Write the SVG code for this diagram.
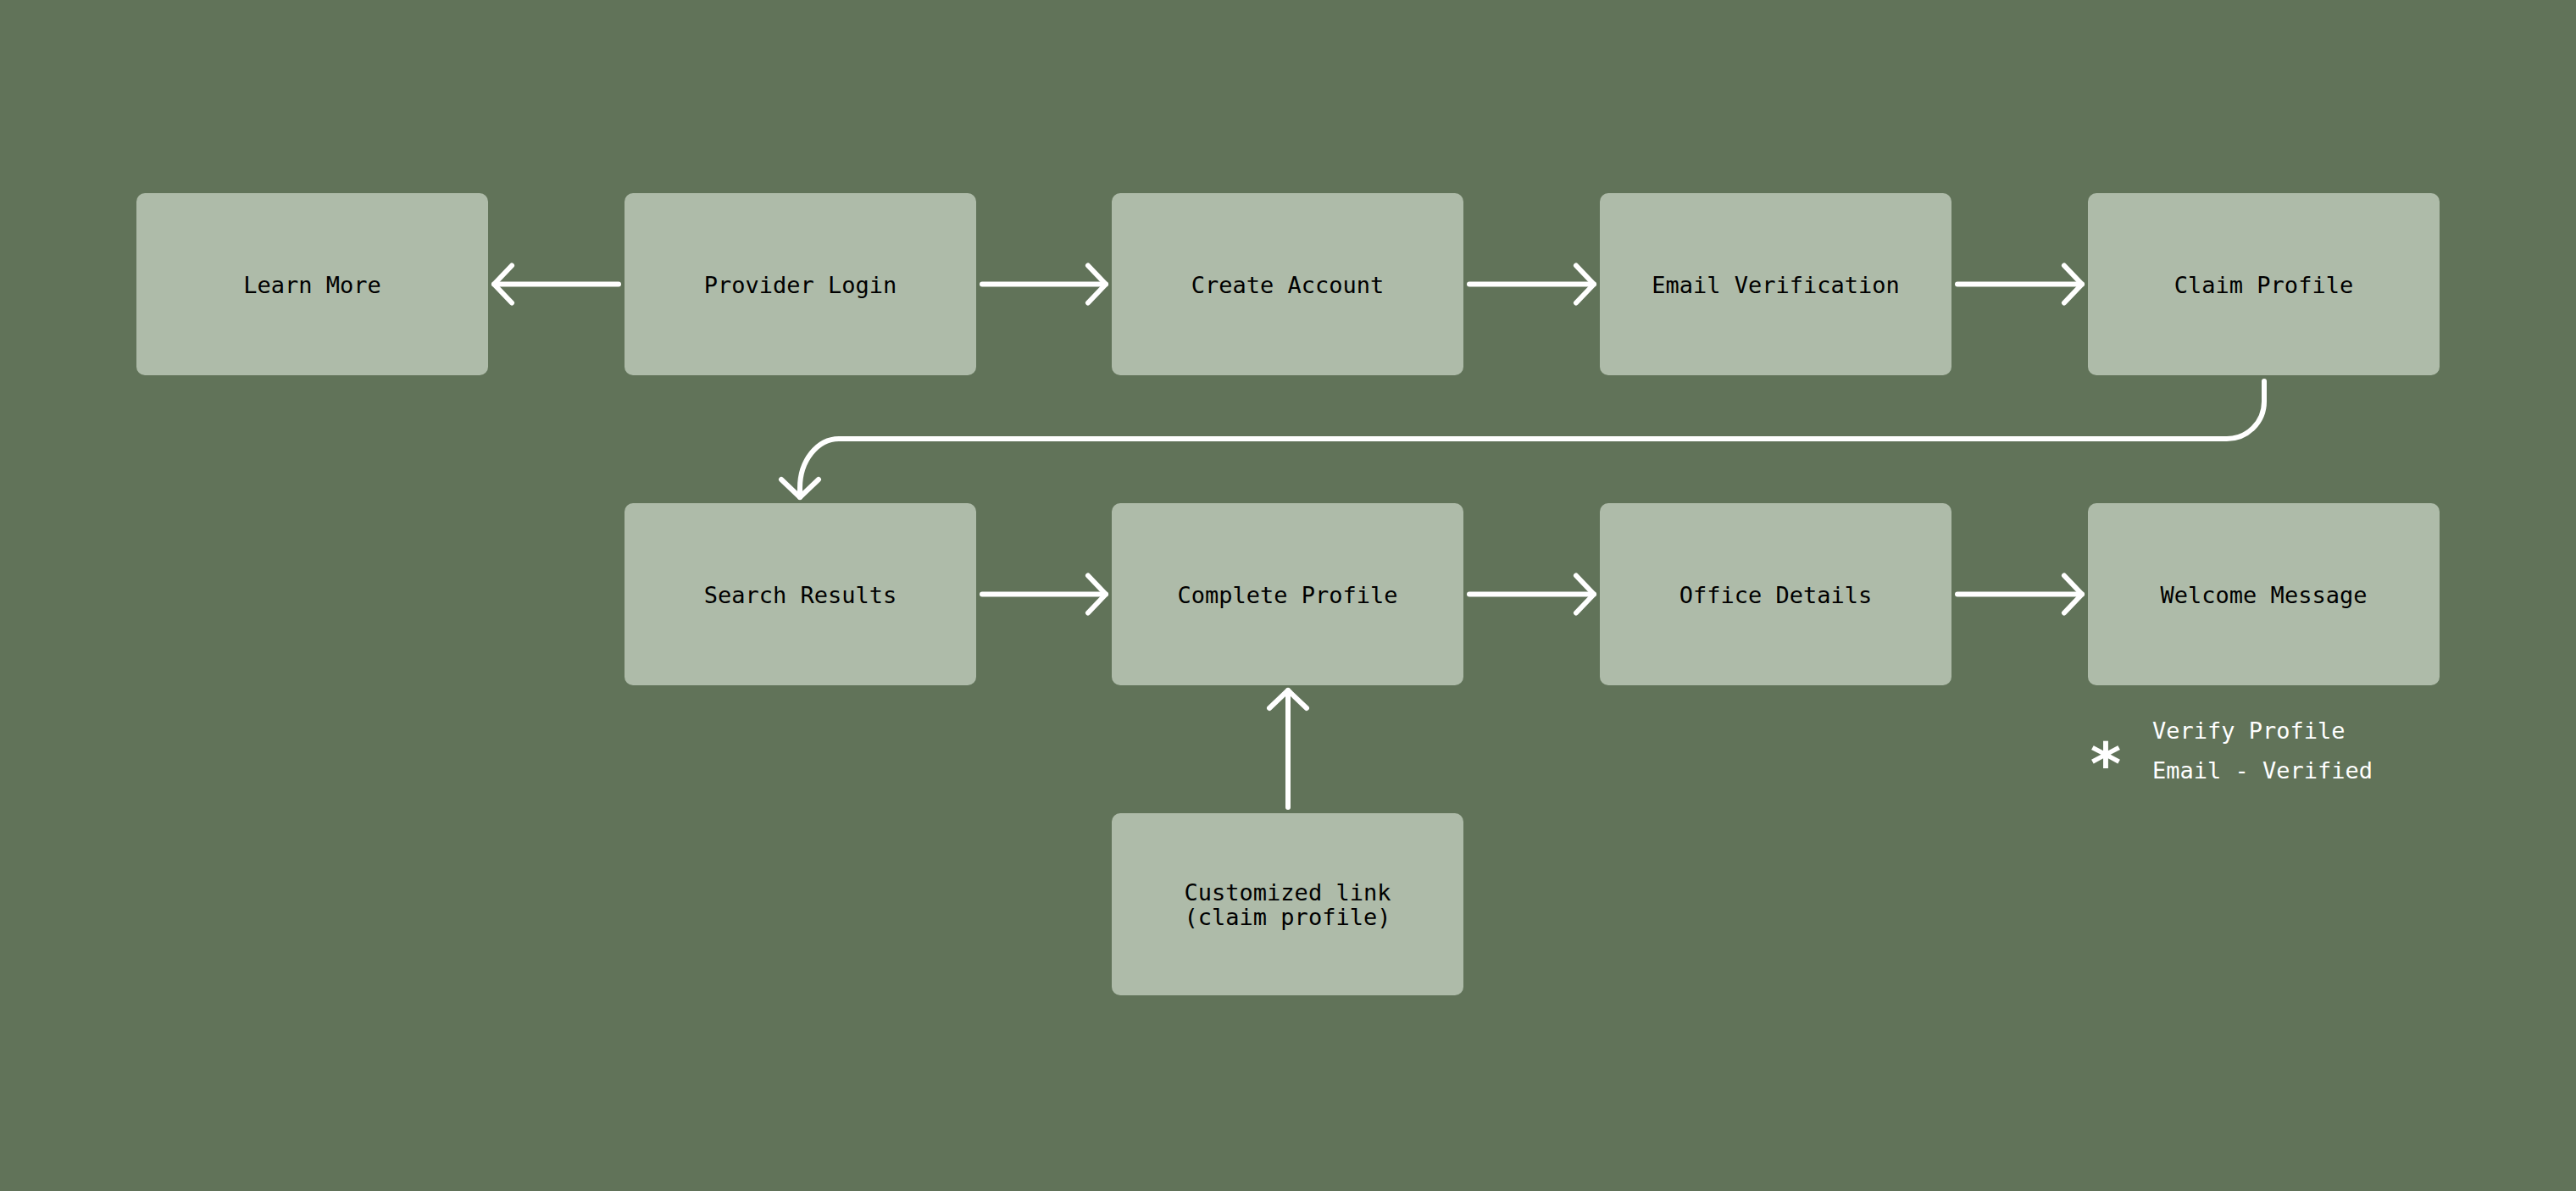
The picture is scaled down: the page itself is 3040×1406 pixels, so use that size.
<svg xmlns="http://www.w3.org/2000/svg" width="3040" height="1406" viewBox="0 0 3040 1406">
  <defs>
    <style>
      .box { fill: #aebba9; }
      .label { font-family: "DejaVu Sans Mono", "Liberation Mono", monospace; font-size: 27px; fill: #000000; text-anchor: middle; }
      .note { font-family: "DejaVu Sans Mono", "Liberation Mono", monospace; font-size: 27px; fill: #ffffff; }
      .star { font-family: "DejaVu Sans Mono", "Liberation Mono", monospace; font-size: 70px; font-weight: bold; fill: #ffffff; text-anchor: middle; }
      .link { fill: none; stroke: #ffffff; stroke-width: 6; stroke-linecap: round; stroke-linejoin: round; }
    </style>
    <marker id="head" viewBox="-26 -26 30 52" markerWidth="30" markerHeight="52" refX="0" refY="0" orient="auto" markerUnits="userSpaceOnUse">
      <path d="M -21 -22 L 0 0 L -21 22" fill="none" stroke="#ffffff" stroke-width="6" stroke-linecap="round" stroke-linejoin="round"/>
    </marker>
  </defs>

  <rect width="3040" height="1406" fill="#617359"/>

  <!-- row 1 -->
  <g id="learn-more">
    <rect class="box" x="161" y="228" width="415" height="215" rx="10"/>
    <text class="label" x="368.5" y="346">Learn More</text>
  </g>
  <g id="provider-login">
    <rect class="box" x="737" y="228" width="415" height="215" rx="10"/>
    <text class="label" x="944.5" y="346">Provider Login</text>
  </g>
  <g id="create-account">
    <rect class="box" x="1312" y="228" width="415" height="215" rx="10"/>
    <text class="label" x="1519.5" y="346">Create Account</text>
  </g>
  <g id="email-verification">
    <rect class="box" x="1888" y="228" width="415" height="215" rx="10"/>
    <text class="label" x="2095.5" y="346">Email Verification</text>
  </g>
  <g id="claim-profile">
    <rect class="box" x="2464" y="228" width="415" height="215" rx="10"/>
    <text class="label" x="2671.5" y="346">Claim Profile</text>
  </g>

  <!-- row 2 -->
  <g id="search-results">
    <rect class="box" x="737" y="594" width="415" height="215" rx="10"/>
    <text class="label" x="944.5" y="712">Search Results</text>
  </g>
  <g id="complete-profile">
    <rect class="box" x="1312" y="594" width="415" height="215" rx="10"/>
    <text class="label" x="1519.5" y="712">Complete Profile</text>
  </g>
  <g id="office-details">
    <rect class="box" x="1888" y="594" width="415" height="215" rx="10"/>
    <text class="label" x="2095.5" y="712">Office Details</text>
  </g>
  <g id="welcome-message">
    <rect class="box" x="2464" y="594" width="415" height="215" rx="10"/>
    <text class="label" x="2671.5" y="712">Welcome Message</text>
  </g>

  <!-- row 3 -->
  <g id="customized-link">
    <rect class="box" x="1312" y="960" width="415" height="215" rx="10"/>
    <text class="label" x="1519.5" y="1063">Customized link</text>
    <text class="label" x="1519.5" y="1092">(claim profile)</text>
  </g>

  <!-- legend -->
  <g id="legend">
    <text class="star" x="2485" y="926">*</text>
    <text class="note" x="2540" y="872">Verify Profile</text>
    <text class="note" x="2540" y="919">Email - Verified</text>
  </g>

  <!-- connectors -->
  <g id="connectors">
    <path class="link" d="M 730 335.5 H 583" marker-end="url(#head)"/>
    <path class="link" d="M 1159 335.5 H 1305" marker-end="url(#head)"/>
    <path class="link" d="M 1734 335.5 H 1881" marker-end="url(#head)"/>
    <path class="link" d="M 2310 335.5 H 2457" marker-end="url(#head)"/>

    <path class="link" d="M 2672 450 V 474 A 44 44 0 0 1 2628 518 H 990 A 46 58 0 0 0 944 576 V 587" marker-end="url(#head)"/>

    <path class="link" d="M 1159 701.5 H 1305" marker-end="url(#head)"/>
    <path class="link" d="M 1734 701.5 H 1881" marker-end="url(#head)"/>
    <path class="link" d="M 2310 701.5 H 2457" marker-end="url(#head)"/>

    <path class="link" d="M 1520 953 V 815" marker-end="url(#head)"/>
  </g>
</svg>
